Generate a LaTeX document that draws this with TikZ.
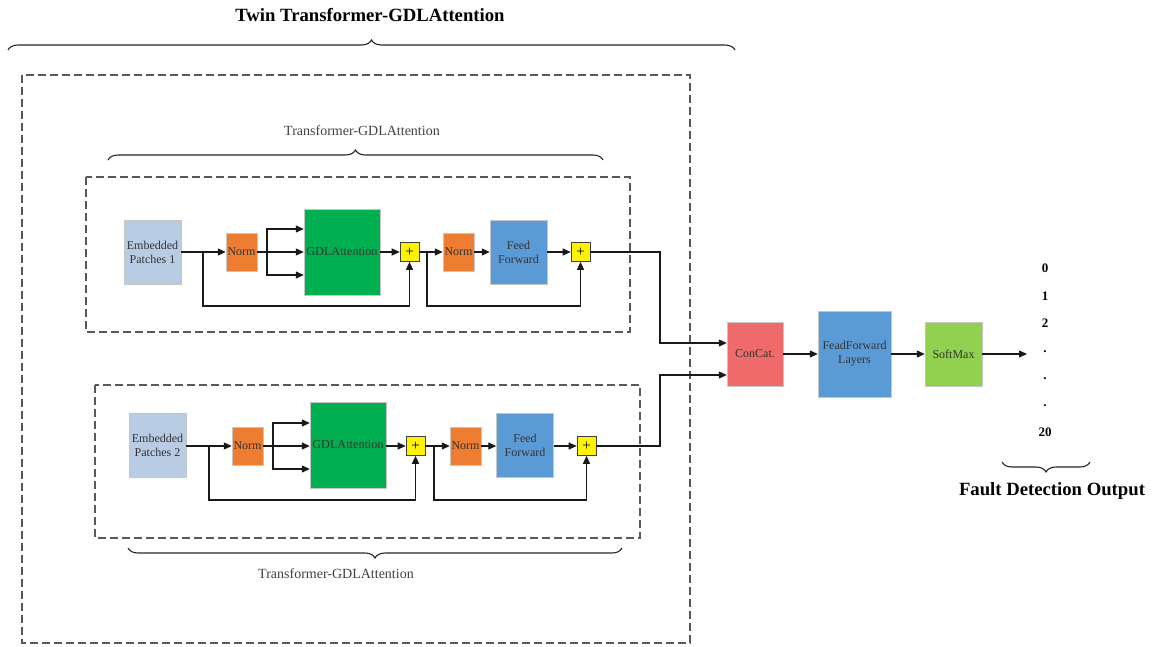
\documentclass[tikz,border=0pt]{standalone}
\usepackage{fontspec}
\setmainfont{Liberation Serif}
\usetikzlibrary{arrows.meta,decorations.pathreplacing,calc}

\definecolor{patchblue}{HTML}{B8CCE4}
\definecolor{normorange}{HTML}{ED7D31}
\definecolor{attngreen}{HTML}{00B050}
\definecolor{ffblue}{HTML}{5B9BD5}
\definecolor{catred}{HTML}{EF6B6B}
\definecolor{softgreen}{HTML}{92D050}

\begin{document}
\begin{tikzpicture}[x=1pt,y=-1pt,
    box/.style={draw=gray!45,line width=0.4pt,inner sep=1pt,align=center,
      text=black!80,font=\fontsize{12}{14}\selectfont},
    patch/.style={box,fill=patchblue,minimum width=57pt,minimum height=64pt},
    norm/.style={box,fill=normorange,minimum width=31pt,minimum height=38pt},
    attn/.style={box,fill=attngreen,minimum width=76pt,minimum height=86pt,
      font=\fontsize{12.2}{14}\selectfont},
    ff/.style={box,fill=ffblue,minimum width=57pt,minimum height=64pt},
    add/.style={draw=black!75,line width=0.6pt,fill=yellow,minimum size=19pt,
      inner sep=0pt,font=\fontsize{15}{15}\selectfont},
    arr/.style={draw=black!90,line width=1.1pt,-{Triangle[length=8pt,width=7pt]}},
    dbox/.style={draw=black!65,line width=1.2pt,dash pattern=on 8pt off 4pt},
    brc/.style={draw=black!85,line width=1.1pt,decorate,decoration={brace,amplitude=10pt}},
    outnum/.style={font=\bfseries\fontsize{13}{14}\selectfont,inner sep=1pt},
    big/.style={font=\bfseries\fontsize{18.7}{20}\selectfont},
    sub/.style={text=black!75,font=\fontsize{14}{16}\selectfont}]
\useasboundingbox (0,0) rectangle (1154,646);

% frames
\draw[dbox] (22,75) rectangle (690,643);
\draw[dbox] (86,177) rectangle (630,332);
\draw[dbox] (95,385) rectangle (640,538);

\node[big] (title) at (370,15) {Twin Transformer-GDLAttention};
\draw[brc] (8,50) -- (735,50);
\node[sub] (lblA) at (362,131) {Transformer-GDLAttention};
\draw[brc] (108,160) -- (603,160);
\draw[brc] (622,548) -- (128,548);
\node[sub] (lblB) at (336,574) {Transformer-GDLAttention};

% upper branch
\node[patch] (patchA) at (152.5,252) {Embedded\\Patches 1};
\node[norm] (normA1) at (241.5,252) {Norm};
\node[attn] (attnA) at (342,252) {GDLAttention};
\node[add] (addA1) at (409.5,252) {+};
\node[norm] (normA2) at (458.5,252) {Norm};
\node[ff] (ffA) at (518.5,252) {Feed\\Forward};
\node[add] (addA2) at (580.5,252) {+};

\coordinate (skA1) at (203,252);
\coordinate (fanA) at (267,252);
\coordinate (skA2) at (427,252);
\draw[arr] (patchA) -- (normA1);
\draw[arr] (normA1) -- (attnA);
\draw[arr] (fanA) |- ($(attnA.west)+(0,-23)$);
\draw[arr] (fanA) |- ($(attnA.west)+(0,23)$);
\draw[arr] (attnA) -- (addA1);
\draw[arr] (skA1) -- ++(0,54) -| (addA1.south);
\draw[arr] (addA1) -- (normA2);
\draw[arr] (normA2) -- (ffA);
\draw[arr] (ffA) -- (addA2);
\draw[arr] (skA2) -- ++(0,54) -| (addA2.south);

% lower branch
\node[patch] (patchB) at (157.5,445) {Embedded\\Patches 2};
\node[norm] (normB1) at (247.5,446) {Norm};
\node[attn] (attnB) at (348,445) {GDLAttention};
\node[add] (addB1) at (415.5,446) {+};
\node[norm] (normB2) at (465.5,446) {Norm};
\node[ff] (ffB) at (525,445) {Feed\\Forward};
\node[add] (addB2) at (586.5,446) {+};

\coordinate (skB1) at (209,446);
\coordinate (fanB) at (273,446);
\coordinate (skB2) at (434,446);
\draw[arr] (patchB.east |- normB1) -- (normB1);
\draw[arr] (normB1) -- (attnB.west |- normB1);
\draw[arr] (fanB) |- ($(attnB.west |- normB1)+(0,-23)$);
\draw[arr] (fanB) |- ($(attnB.west |- normB1)+(0,23)$);
\draw[arr] (attnB.east |- addB1) -- (addB1);
\draw[arr] (skB1) -- ++(0,54) -| (addB1.south);
\draw[arr] (addB1) -- (normB2);
\draw[arr] (normB2) -- (ffB.west |- normB2);
\draw[arr] (ffB.east |- addB2) -- (addB2);
\draw[arr] (skB2) -- ++(0,54) -| (addB2.south);

% head
\node[box,fill=catred,minimum width=56pt,minimum height=64pt] (concat) at (755,354) {ConCat.};
\node[box,fill=ffblue,minimum width=73pt,minimum height=86pt] (ffl) at (854.5,354) {FeadForward\\Layers};
\node[box,fill=softgreen,minimum width=57pt,minimum height=64pt] (soft) at (953.5,354) {SoftMax};

\coordinate (trunk) at (660,354);
\coordinate (outtip) at (1027,354);
\draw[arr] (addA2.east) -- (addA2.east -| trunk) |- ($(concat.west)+(0,-11)$);
\draw[arr] (addB2.east) -- (addB2.east -| trunk) |- ($(concat.west)+(0,21)$);
\draw[arr] (concat) -- (ffl);
\draw[arr] (ffl) -- (soft);
\draw[arr] (soft) -- (outtip);

\foreach \lbl/\yy/\nm in {0/268/o0,1/296/o1,2/323/o2,./352/o3,./379/o4,./406/o5,20/432/o6}
  \node[outnum] (\nm) at (1045,\yy) {\lbl};
\draw[brc] (1090,462) -- (1002,462);
\node[big] (fdo) at (1052,491) {Fault Detection Output};
\end{tikzpicture}
\end{document}
